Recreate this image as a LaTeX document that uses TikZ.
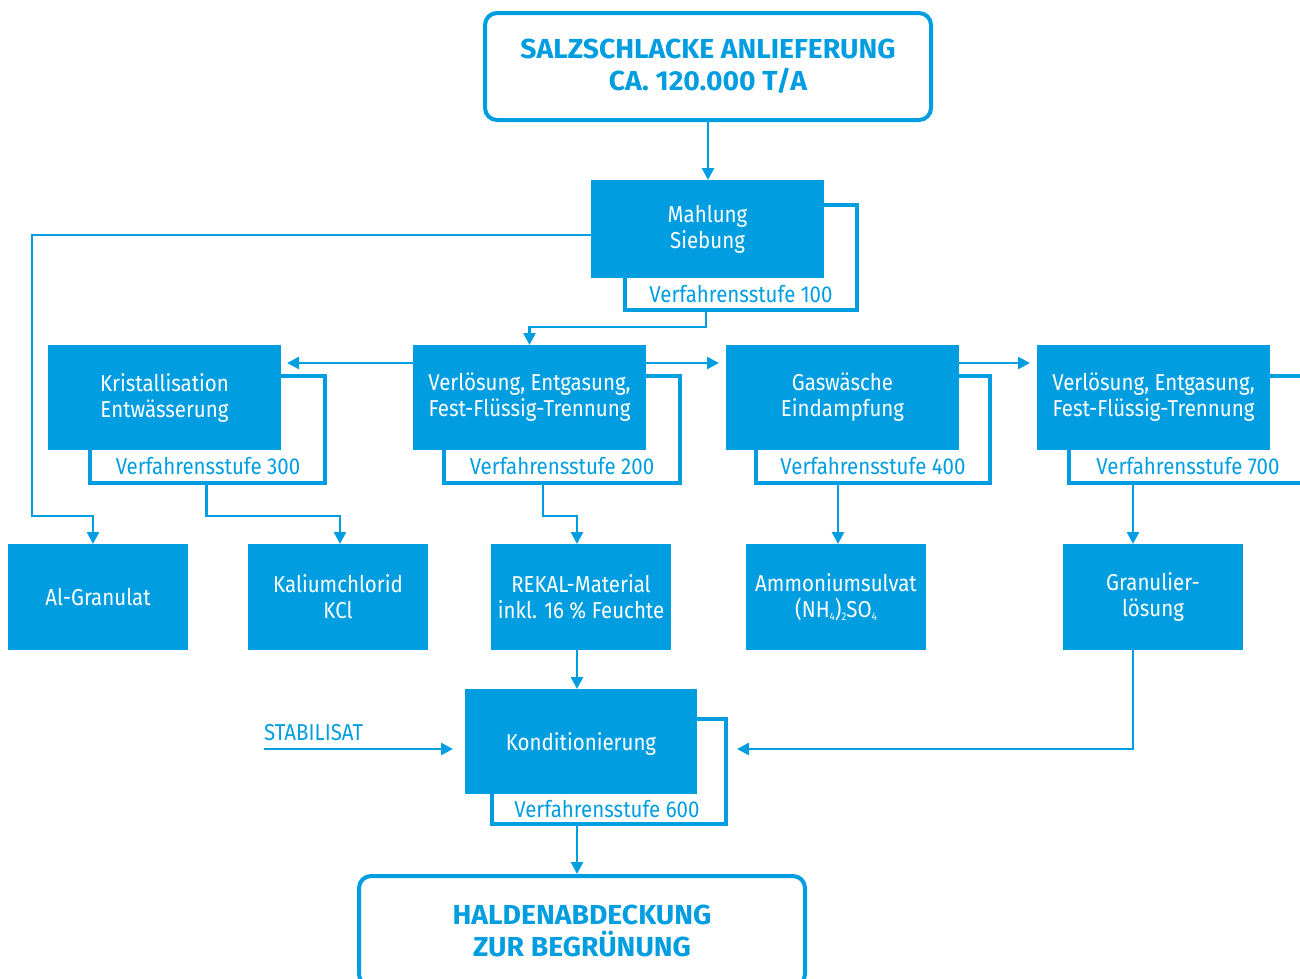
\documentclass[tikz,border=0pt]{standalone}
\usepackage{fontspec}
\setmainfont{Fira Sans}[FakeStretch=0.89]
\newfontfamily\titlefont{Fira Sans}[FakeStretch=1.03]
\usetikzlibrary{arrows.meta}
\definecolor{cblue}{RGB}{0,158,224}
\tikzset{
 pbox/.style={fill=cblue, text=white, inner sep=0pt, outer sep=0pt, align=center, font=\fontsize{23}{26}\selectfont, anchor=north west},
 stageframe/.style={draw=cblue, line width=4pt, inner sep=0pt, outer sep=0pt, anchor=north west},
 flabel/.style={text=cblue, font=\fontsize{23}{26}\selectfont, inner sep=0pt},
 conn/.style={draw=cblue, line width=2.5pt},
 arr/.style={conn, -{Triangle[length=12pt,width=12pt]}},
 tbox/.style={draw=cblue, line width=4pt, rounded corners=12pt, text=cblue, font=\titlefont\bfseries\fontsize{27.5}{32}\selectfont, align=center, anchor=north west, inner sep=0pt}
}
\begin{document}
\begin{tikzpicture}[x=1pt,y=-1pt]
\useasboundingbox (0,0) rectangle (1300,978);
% title boxes
\node[tbox, minimum width=446pt, minimum height=107pt] (top) at (483,11) {SALZSCHLACKE ANLIEFERUNG\\CA. 120.000 T/A};
\node[tbox, minimum width=446pt, minimum height=110pt] (bot) at (357,874) {HALDENABDECKUNG\\ZUR BEGRÜNUNG};
% stage frames
\node[stageframe, minimum width=232pt, minimum height=105pt] (f100) at (625,205) {};
\node[stageframe, minimum width=235pt, minimum height=107pt] (f300) at (90,376) {};
\node[stageframe, minimum width=236pt, minimum height=107pt] (f200) at (444,376) {};
\node[stageframe, minimum width=234pt, minimum height=107pt] (f400) at (756,376) {};
\node[stageframe, minimum width=260pt, minimum height=107pt] (f700) at (1069,376) {};
\node[stageframe, minimum width=234pt, minimum height=105pt] (f600) at (492,719) {};
% stage labels
\node[flabel] (l100) at (741,294) {Verfahrensstufe 100};
\node[flabel] (l300) at (208,466) {Verfahrensstufe 300};
\node[flabel] (l200) at (562,466) {Verfahrensstufe 200};
\node[flabel] (l400) at (873,466) {Verfahrensstufe 400};
\node[flabel] (l700) at (1188,466) {Verfahrensstufe 700};
\node[flabel] (l600) at (607,809) {Verfahrensstufe 600};
% process boxes
\node[pbox, minimum width=233pt, minimum height=98pt] (mahl) at (591,180) {Mahlung\\Siebung};
\node[pbox, minimum width=233pt, minimum height=105pt] (b300) at (48,345) {Kristallisation\\Entwässerung};
\node[pbox, minimum width=233pt, minimum height=105pt] (b200) at (413,345) {Verlösung, Entgasung,\\Fest-Flüssig-Trennung};
\node[pbox, minimum width=233pt, minimum height=105pt] (b400) at (726,345) {Gaswäsche\\Eindampfung};
\node[pbox, minimum width=233pt, minimum height=105pt] (b700) at (1037,345) {Verlösung, Entgasung,\\Fest-Flüssig-Trennung};
\node[pbox, minimum width=180pt, minimum height=106pt] (al) at (8,544) {Al-Granulat};
\node[pbox, minimum width=180pt, minimum height=106pt] (kcl) at (248,544) {Kaliumchlorid\\KCl};
\node[pbox, minimum width=180pt, minimum height=106pt] (rekal) at (491,544) {REKAL-Material\\inkl. 16 \% Feuchte};
\node[pbox, minimum width=180pt, minimum height=106pt] (amm) at (746,544) {Ammoniumsulvat\\(NH{\fontsize{11}{11}\selectfont\raisebox{-3pt}{4}})\raisebox{-3pt}{\fontsize{11}{11}\selectfont 2}SO\raisebox{-3pt}{\fontsize{11}{11}\selectfont 4}};
\node[pbox, minimum width=180pt, minimum height=106pt] (gran) at (1063,544) {Granulier-\\lösung};
\node[pbox, minimum width=232pt, minimum height=105pt, text depth=-2pt] (kond) at (465,689) {Konditionierung};
% stabilisat
\node[flabel, anchor=south west] (stab) at (264,741) {STABILISAT};
\coordinate (s0) at (264,749);
\coordinate (w1) at (32,516);
% connectors
\draw[arr] (top.south) -- (top.south |- mahl.north);
\draw[arr] ([yshift=-6pt]mahl.west) -| (w1) -| ([xshift=-5pt]al.north);
\draw[arr] ([xshift=-35pt]f100.south) -- ++(0,17) -| (b200.north);
\draw[arr] ([yshift=34.5pt]b200.west) -- ([xshift=6pt,yshift=34.5pt]b300.east);
\draw[arr] ([yshift=34.5pt]b200.east) -- ([xshift=-7pt,yshift=34.5pt]b400.west);
\draw[arr] ([yshift=34.5pt]b400.east) -- ([xshift=-7pt,yshift=34.5pt]b700.west);
\draw[arr] ([xshift=-1pt]f300.south) -- ++(0,33) -| ([xshift=2pt]kcl.north);
\draw[arr] ([xshift=-19pt]f200.south) -- ++(0,33) -| ([xshift=-4pt]rekal.north);
\draw[arr] ([xshift=-35pt]f400.south) -- ([xshift=-35pt]f400.south |- amm.north);
\draw[arr] ([xshift=64pt]f700.south west) -- ([xshift=64pt]f700.south west |- gran.north);
\draw[arr] ([xshift=-4pt]rekal.south) -- ([xshift=-4pt]rekal.south |- kond.north);
\draw[arr] (s0) -- ([xshift=-12pt,yshift=-7.5pt]kond.west);
\draw[arr] ([xshift=-20pt]gran.south) |- ([xshift=11pt,yshift=22.5pt]f600.east);
\draw[arr] ([xshift=-32pt]f600.south) -- ([xshift=-32pt]f600.south |- bot.north);
\end{tikzpicture}
\end{document}
